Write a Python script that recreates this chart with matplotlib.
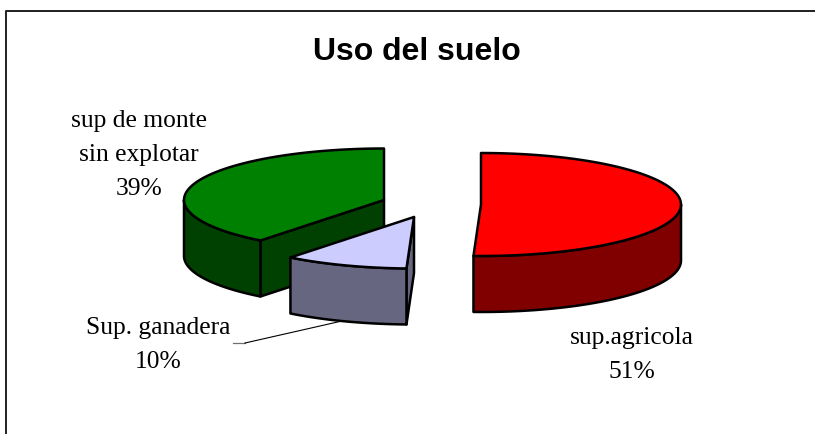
# -*- coding: utf-8 -*-
import numpy as np
from matplotlib import pyplot as plt
from matplotlib.patches import Polygon

# values (printed as rounded percentages)
labels = ["sup.agricola", "Sup. ganadera", "sup de monte\nsin explotar"]
values = [50.6, 10.0, 39.4]
top_colors = ["#ff0000", "#ccccff", "#008000"]
side_colors = ["#800000", "#666680", "#004000"]

# apex of each exploded slice, in pixels
centers = [(481, 204.5), (414, 217), (384, 200)]
label_pos = [(632, 355), (158, 345), (139, 155)]

rx = 200
ry = 51.5
depth = 56


def rim(c, a0, a1):
    # angles in degrees, clockwise from 12 o'clock
    t = np.radians(np.linspace(a0, a1, 80))
    return np.column_stack((c[0] + rx * np.sin(t), c[1] - ry * np.cos(t)))


def draw_slice(ax, c, a0, a1, top, side):
    down = np.array([0, depth])
    apex = np.array([c], dtype=float)

    # cut face on the starting edge, only seen when it looks towards us
    if a0 > 90:
        edge = rim(c, a0, a0)[:1]
        pts = np.vstack((apex, edge, edge + down, apex + down))
        ax.add_patch(Polygon(pts, fc=side, ec="black", lw=1.8, joinstyle="round"))

    # outer wall, the front half of the ellipse
    lo = max(a0, 90)
    hi = min(a1, 270)
    if hi > lo:
        arc = rim(c, lo, hi)
        pts = np.vstack((arc, arc[::-1] + down))
        ax.add_patch(Polygon(pts, fc=side, ec="black", lw=1.8, joinstyle="round"))

    # top face
    pts = np.vstack((apex, rim(c, a0, a1)))
    ax.add_patch(Polygon(pts, fc=top, ec="black", lw=1.8, joinstyle="round"))


fig = plt.figure(figsize=(8.15, 4.34), dpi=100)
ax = fig.add_axes([0, 0, 1, 1])
ax.set_xlim(0, 815)
ax.set_ylim(434, 0)
ax.axis("off")

# chart frame, only the left and top edges are in the picture
ax.plot([6, 6, 815], [434, 11, 11], color="#202020", lw=1.4)

angles = np.concatenate(([0], np.cumsum(values))) / np.sum(values) * 360

order = [2, 0, 1]
for i in order:
    draw_slice(ax, centers[i], angles[i], angles[i + 1], top_colors[i], side_colors[i])

# leader line of the small slice
ax.plot([233, 245], [343, 343], color="#707070", lw=0.9)
ax.plot([245, 342], [343, 321], color="black", lw=0.8)

ax.text(416.5, 52, "Uso del suelo", family="Liberation Sans", weight="bold",
        fontsize=23, ha="center", va="center")

for i in range(len(labels)):
    pct = "{0:.0f}%".format(values[i])
    ax.text(label_pos[i][0], label_pos[i][1], labels[i] + "\n" + pct,
            family="Liberation Serif", fontsize=18.4, ha="center", va="center",
            linespacing=1.72)

fig.savefig("out.png", dpi=100)
